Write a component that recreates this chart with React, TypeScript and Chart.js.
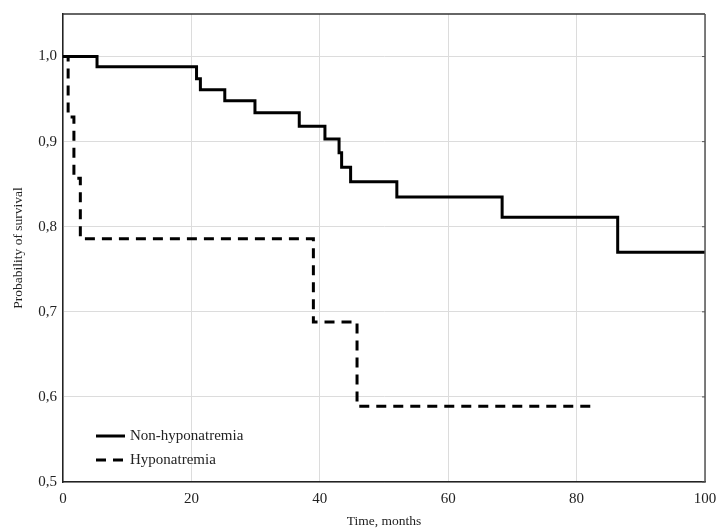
import React, { useEffect, useRef } from "react";
import { Chart, registerables } from "chart.js";

Chart.register(...registerables);

// Kaplan–Meier curves (time in months, survival probability)
const nonHypoTimes = [0, 5.3, 20.8, 21.4, 25.2, 29.9, 36.8, 40.8, 43.0, 43.4, 44.8, 52.0, 68.4, 86.4, 100];
const nonHypoSurv = [1.0, 0.988, 0.974, 0.961, 0.948, 0.934, 0.918, 0.903, 0.887, 0.870, 0.853, 0.835, 0.811, 0.770, 0.770];

const hypoTimes = [0, 0.8, 1.7, 2.7, 39.0, 45.8, 83.1];
const hypoSurv = [1.0, 0.929, 0.857, 0.786, 0.688, 0.589, 0.589];

const seriesLabels = ["Non-hyponatremia", "Hyponatremia"];
const xTicks = [0, 20, 40, 60, 80, 100];
const yTicks = [0.5, 0.6, 0.7, 0.8, 0.9, 1.0];
const xTitle = "Time, months";
const yTitle = "Probability of survival";

const FONT = '"Liberation Serif", "Times New Roman", serif';

const decorPlugin = {
  id: "decor",
  afterDraw(chart: any) {
    const { ctx, chartArea } = chart;
    const { left, right, top, bottom } = chartArea;
    ctx.save();
    // top and right frame
    ctx.lineWidth = 1.5;
    ctx.strokeStyle = "#333";
    ctx.beginPath();
    ctx.moveTo(left, top);
    ctx.lineTo(right, top);
    ctx.stroke();
    ctx.strokeStyle = "#555";
    ctx.beginPath();
    ctx.moveTo(right, top);
    ctx.lineTo(right, bottom);
    ctx.stroke();
    // right-side tick marks
    const ys = chart.scales.y;
    ctx.lineWidth = 1;
    ctx.strokeStyle = "#555";
    yTicks.forEach((v) => {
      const py = ys.getPixelForValue(v);
      ctx.beginPath();
      ctx.moveTo(right - 3, py);
      ctx.lineTo(right, py);
      ctx.stroke();
    });
    // axis titles
    ctx.fillStyle = "#222";
    ctx.font = `13.5px ${FONT}`;
    ctx.textAlign = "center";
    ctx.textBaseline = "middle";
    ctx.fillText(xTitle, (left + right) / 2, 521);
    ctx.save();
    ctx.translate(18, (top + bottom) / 2);
    ctx.rotate(-Math.PI / 2);
    ctx.fillText(yTitle, 0, 0);
    ctx.restore();
    // legend inside plot
    const x0 = left + 33;
    const rows = [bottom - 46, bottom - 22];
    chart.data.datasets.forEach((ds: any, i: number) => {
      const yy = rows[i];
      ctx.save();
      ctx.strokeStyle = ds.borderColor;
      ctx.lineWidth = ds.borderWidth;
      ctx.setLineDash(ds.borderDash || []);
      ctx.beginPath();
      ctx.moveTo(x0, yy);
      ctx.lineTo(x0 + 29, yy);
      ctx.stroke();
      ctx.restore();
      ctx.fillStyle = "#222";
      ctx.font = `15px ${FONT}`;
      ctx.textAlign = "left";
      ctx.textBaseline = "middle";
      ctx.fillText(ds.label, x0 + 34, yy);
    });
    ctx.restore();
  },
};

export default function App() {
  const ref = useRef<HTMLCanvasElement>(null);

  useEffect(() => {
    if (!ref.current) return;
    const chart = new Chart(ref.current, {
      type: "line",
      data: {
        datasets: [
          {
            label: seriesLabels[0],
            data: nonHypoTimes.map((t, i) => ({ x: t, y: nonHypoSurv[i] })),
            borderColor: "#000",
            borderWidth: 3,
            stepped: "before",
            pointRadius: 0,
            fill: false,
          },
          {
            label: seriesLabels[1],
            data: hypoTimes.map((t, i) => ({ x: t, y: hypoSurv[i] })),
            borderColor: "#000",
            borderWidth: 3,
            borderDash: [10, 7],
            stepped: "before",
            pointRadius: 0,
            fill: false,
          },
        ],
      },
      options: {
        animation: false,
        responsive: false,
        maintainAspectRatio: false,
        layout: { padding: { top: 14, right: 11, left: 0, bottom: 0 } },
        plugins: { legend: { display: false }, tooltip: { enabled: false } },
        scales: {
          x: {
            type: "linear",
            min: 0,
            max: 100,
            afterBuildTicks: (s: any) => {
              s.ticks = xTicks.map((v) => ({ value: v }));
            },
            afterFit: (s: any) => {
              s.height = 46;
              s.paddingLeft = 0;
              s.paddingRight = 0;
            },
            grid: { color: "#dcdcdc", lineWidth: 1, drawTicks: false },
            border: { color: "#222", width: 1.5 },
            ticks: {
              font: { family: FONT, size: 15 },
              color: "#222",
              padding: 8,
              maxRotation: 0,
              callback: (v: any) => String(v),
            },
          },
          y: {
            type: "linear",
            min: 0.5,
            max: 1.05,
            afterBuildTicks: (s: any) => {
              s.ticks = yTicks.map((v) => ({ value: v }));
            },
            afterFit: (s: any) => {
              s.width = 63;
              s.paddingTop = 0;
              s.paddingBottom = 0;
            },
            grid: { color: "#dcdcdc", lineWidth: 1, drawTicks: false },
            border: { color: "#222", width: 1.5 },
            ticks: {
              font: { family: FONT, size: 15 },
              color: "#222",
              padding: 6,
              callback: (v: any) => Number(v).toFixed(1).replace(".", ","),
            },
          },
        },
      },
      plugins: [decorPlugin],
    } as any);
    return () => chart.destroy();
  }, []);

  return (
    <div style={{ position: "fixed", left: 0, top: 0, width: 716, height: 528, background: "#fff" }}>
      <canvas ref={ref} width={716} height={528} style={{ width: 716, height: 528, display: "block" }} />
    </div>
  );
}
